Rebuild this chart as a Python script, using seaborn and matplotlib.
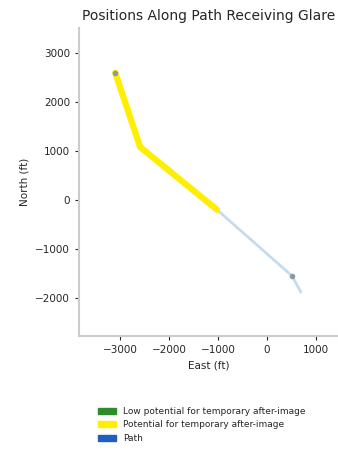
import seaborn as sns
import matplotlib.pyplot as plt
import matplotlib.patches as mpatches
import pandas as pd

# path route (east, north) in ft
path_east = [-3100, -2590, -1020, 510, 690]
path_north = [2600, 1080, -200, -1550, -1880]

# section of path receiving glare
glare_east = [-3100, -2590, -1020]
glare_north = [2600, 1080, -200]

legend_labels = ["Low potential for temporary after-image",
                 "Potential for temporary after-image",
                 "Path"]
legend_colors = ["#2e8b2e", "#ffee00", "#1f5fbf"]

sns.set_style("ticks")
fig = plt.figure(figsize=(3.38, 4.55), dpi=100)
ax = fig.add_axes([0.234, 0.2615, 0.766, 0.677])

path = pd.DataFrame({"east": path_east, "north": path_north})
glare = pd.DataFrame({"east": glare_east, "north": glare_north})

sns.lineplot(data=path, x="east", y="north", sort=False, color="#c5dcef",
             linewidth=2, ax=ax)
sns.lineplot(data=glare, x="east", y="north", sort=False, color="#ffee00",
             linewidth=4.5, ax=ax)
ax.plot([path_east[0], path_east[3]], [path_north[0], path_north[3]], "o",
        color="#8a9aa6", markersize=3, linestyle="none")

ax.set_aspect("equal")
ax.set_xlim(-3837, 1449)
ax.set_ylim(-2776, 3510)
ax.set_xticks([-3000, -2000, -1000, 0, 1000])
ax.set_yticks([-2000, -1000, 0, 1000, 2000, 3000])
ax.tick_params(labelsize=7.5, length=3, width=0.8)
ax.set_xlabel("East (ft)", fontsize=7.5)
ax.set_ylabel("North (ft)", fontsize=7.5)
ax.set_title("Positions Along Path Receiving Glare", fontsize=10)
for s in ["left", "bottom"]:
    ax.spines[s].set_color("#cccccc")
    ax.spines[s].set_linewidth(1.5)
sns.despine(ax=ax)

handles = [mpatches.Patch(color=c, label=l) for c, l in zip(legend_colors, legend_labels)]
fig.legend(handles=handles, loc="center left", bbox_to_anchor=(0.265, 0.066),
           bbox_transform=fig.transFigure, frameon=False, fontsize=6.5,
           handlelength=2, handleheight=0.6, labelspacing=0.5, handletextpad=0.8)

fig.savefig("out.png", dpi=100)
